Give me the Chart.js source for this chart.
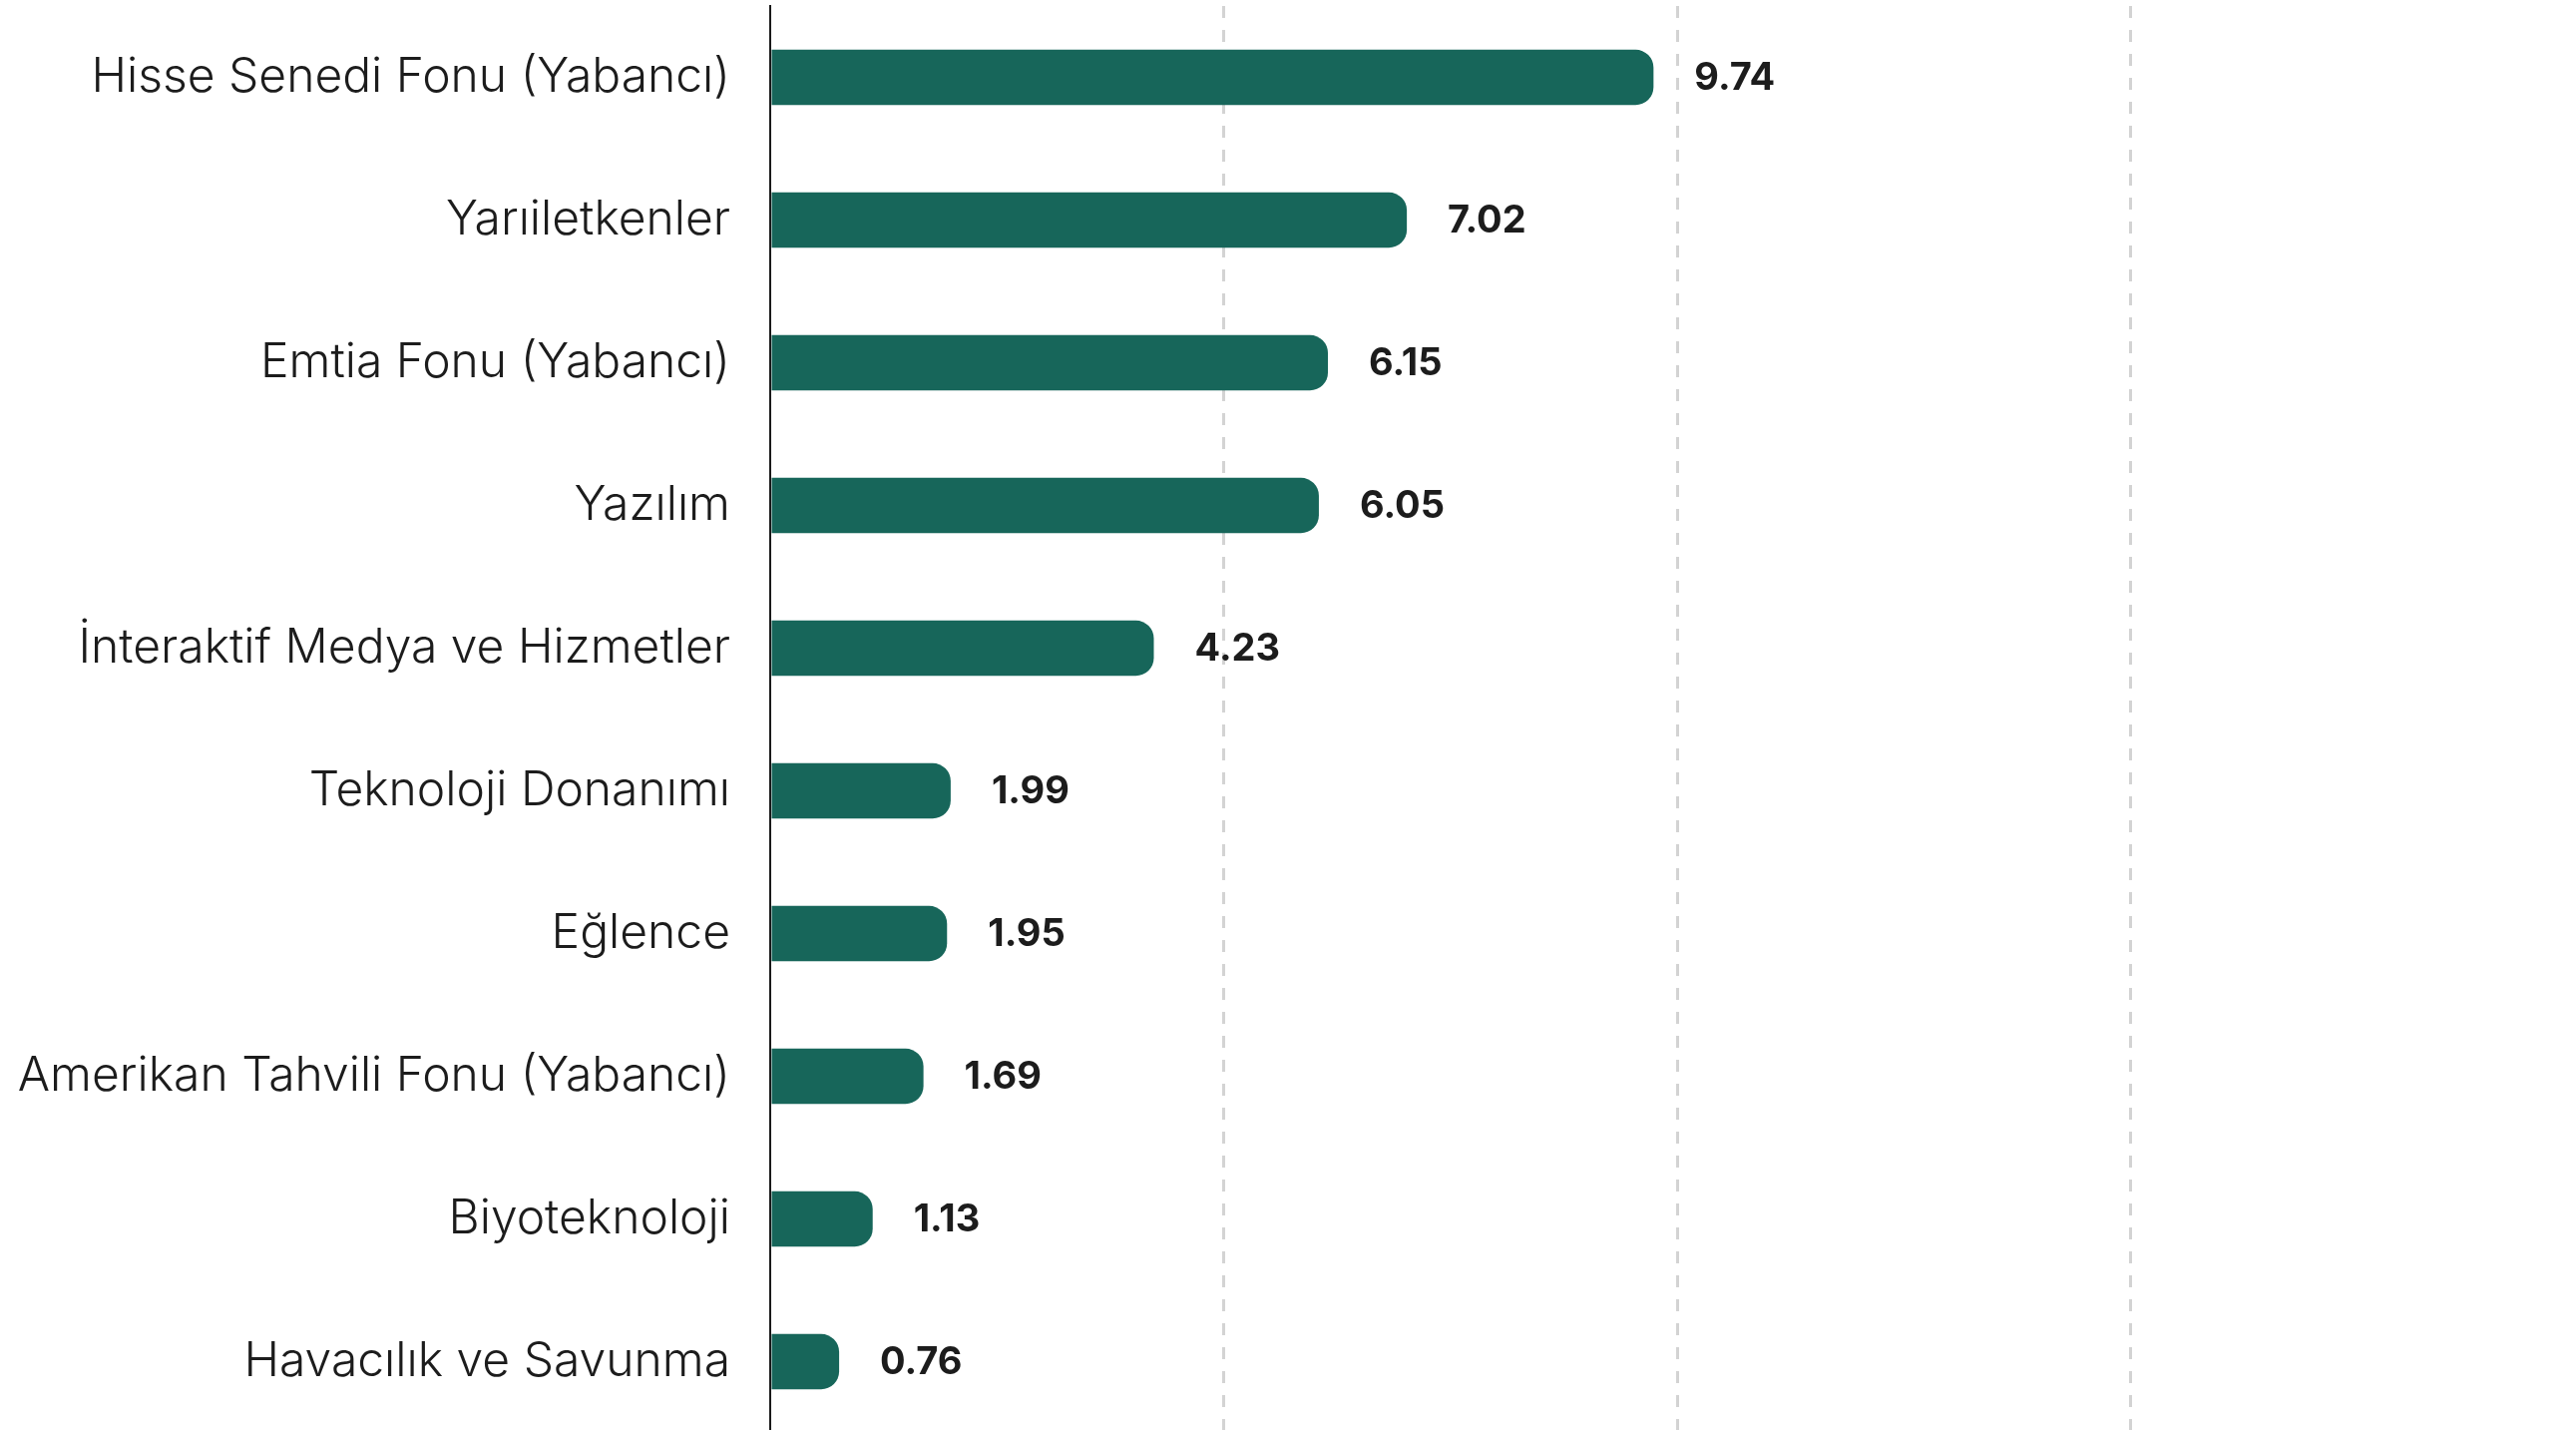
<!DOCTYPE html>
<html>
<head>
<meta charset="utf-8">
<script src="https://cdn.jsdelivr.net/npm/chart.js@4"></script>
<style>
html,body{margin:0;padding:0;background:#fff;overflow:hidden;width:2582px;height:1433px;}
#wrap{position:relative;width:2582px;height:1433px;overflow:hidden;}
canvas{display:block;}
</style>
</head>
<body>
<div id="wrap"><canvas id="c" width="2590" height="1436"></canvas></div>
<script>
const categories = [
  "Hisse Senedi Fonu (Yabancı)",
  "Yarıiletkenler",
  "Emtia Fonu (Yabancı)",
  "Yazılım",
  "İnteraktif Medya ve Hizmetler",
  "Teknoloji Donanımı",
  "Eğlence",
  "Amerikan Tahvili Fonu (Yabancı)",
  "Biyoteknoloji",
  "Havacılık ve Savunma"
];
const values = [9.74, 7.02, 6.15, 6.05, 4.23, 1.99, 1.95, 1.69, 1.13, 0.76];
const gridTicks = [0, 5, 10, 15, 20];

const valueLabels = {
  id: 'valueLabels',
  afterDatasetsDraw(chart) {
    const ctx = chart.ctx;
    const meta = chart.getDatasetMeta(0);
    ctx.save();
    ctx.font = '700 38px Inter';
    ctx.fillStyle = '#1c1c1c';
    ctx.textAlign = 'left';
    ctx.textBaseline = 'middle';
    meta.data.forEach((bar, i) => {
      ctx.fillText(values[i].toFixed(2), bar.x + 41, bar.y + 1);
    });
    ctx.restore();
  }
};

function build() {
  new Chart(document.getElementById('c'), {
    type: 'bar',
    data: {
      labels: categories,
      datasets: [{
        data: values,
        backgroundColor: '#17665a',
        borderRadius: 18,
        borderSkipped: 'start',
        barPercentage: 0.388,
        categoryPercentage: 1.0
      }]
    },
    options: {
      indexAxis: 'y',
      responsive: false,
      animation: false,
      devicePixelRatio: 1,
      layout: { padding: { top: 6, bottom: 0, left: 0, right: 0 } },
      plugins: { legend: { display: false }, tooltip: { enabled: false } },
      scales: {
        x: {
          min: 0,
          max: 20,
          afterBuildTicks(scale) {
            scale.ticks = gridTicks.map(v => ({ value: v }));
          },
          afterFit(scale) { scale.height = 0; scale.paddingLeft = 0; scale.paddingRight = 0; },
          ticks: { display: false },
          grid: {
            drawTicks: false,
            lineWidth: 3,
            color: (ctx) => (ctx.tick && ctx.tick.value === 0) ? 'rgba(0,0,0,0)' : '#d3d3d3'
          },
          border: { display: false, dash: [12, 12] }
        },
        y: {
          afterFit(scale) {
            scale.width = 772;
            scale.paddingTop = 0;
            scale.paddingBottom = 0;
          },
          grid: { display: false, drawTicks: false },
          border: { display: true, color: '#1a1a1a', width: 2 },
          ticks: {
            padding: 40,
            color: '#1c1c1c',
            font: { family: 'Inter', size: 48, weight: 300 }
          }
        }
      }
    },
    plugins: [valueLabels]
  });
}

Promise.all([
  document.fonts.load('300 48px Inter'),
  document.fonts.load('700 38px Inter')
]).then(build, build);
</script>
</body>
</html>
